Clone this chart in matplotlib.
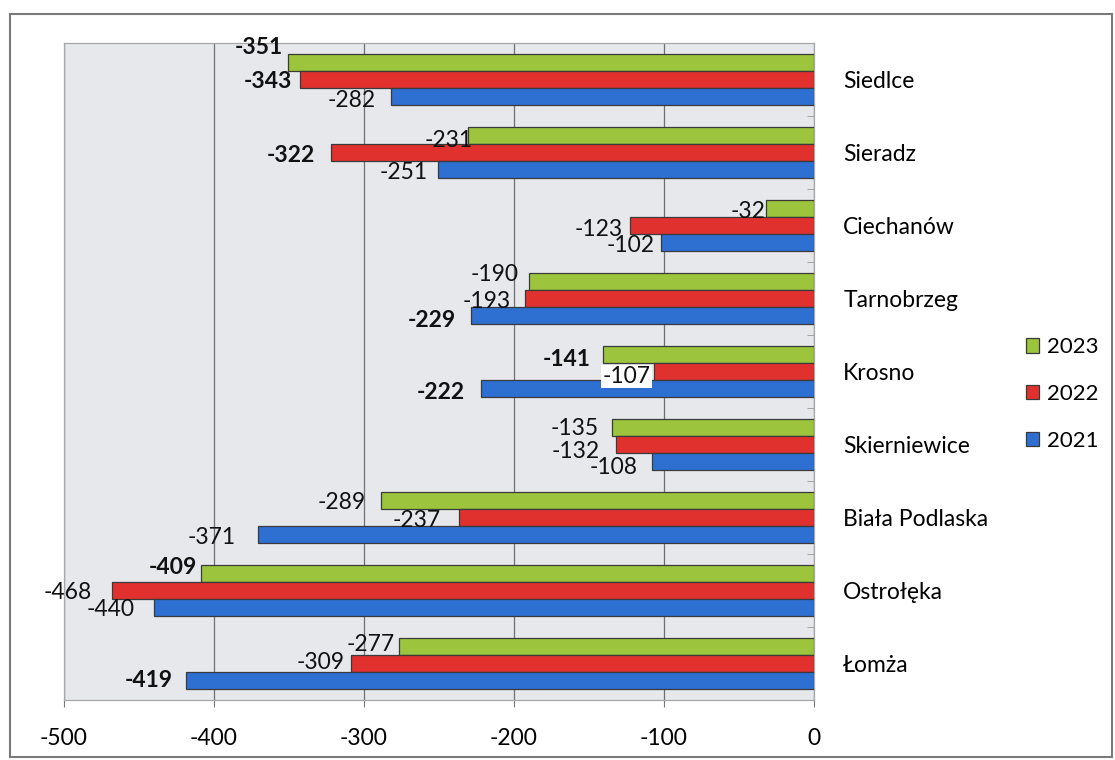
import numpy as np
import matplotlib.pyplot as plt
from matplotlib.patches import Rectangle

plt.rcParams['font.family'] = ['Lato', 'DejaVu Sans']

# data
cities = ["Siedlce", "Sieradz", "Ciechanów", "Tarnobrzeg", "Krosno",
          "Skierniewice", "Biała Podlaska", "Ostrołęka", "Łomża"]
years = ["2023", "2022", "2021"]
v2023 = [-351, -231, -32, -190, -141, -135, -289, -409, -277]
v2022 = [-343, -322, -123, -193, -107, -132, -237, -468, -309]
v2021 = [-282, -251, -102, -229, -222, -108, -371, -440, -419]
xticks = [-500, -400, -300, -200, -100, 0]

colors = ["#9cc43c", "#e0312f", "#2e6fd2"]

# which labels are bold in the original (series, city index)
bold = {(0, 0), (0, 4), (0, 7), (1, 0), (1, 1), (2, 3), (2, 4), (2, 8)}

# label nudges in pixels (dx, dy), the original labels were dragged by hand
nudge = [
    [(-5, -15), (5, 5), (0, 3), (-10, -7), (-12, 5), (-13, 1), (-15, 2), (-3, -6), (-4, -2)],
    [(-7, 2), (-16, 3), (-7, 4), (-14, 3), (-3, 5), (-16, 7), (-18, 3), (-20, 2), (-6, -1)],
    [(-15, 4), (-10, 3), (-6, 3), (-15, 5), (-16, 4), (-14, 6), (-22, 3), (-19, 2), (-13, 0)],
]

fig = plt.figure(figsize=(11.15, 7.6), dpi=100)
ax = fig.add_axes([64/1115, 1-700/760, 750/1115, 657/760])
ax.set_facecolor("#e6e8ec")

y = np.arange(len(cities))
h = 0.23
series = [v2023, v2022, v2021]
offsets = [-h, 0, h]

for s, vals in enumerate(series):
    ax.barh(y + offsets[s], vals, height=h, color=colors[s], edgecolor="#3a3a3a",
            linewidth=0.9, label=years[s], zorder=3)
    for i, v in enumerate(vals):
        dx, dy = nudge[s][i]
        kw = {}
        if s == 1 and i == 4:
            kw = dict(bbox=dict(boxstyle="square,pad=0.05", fc="white", ec="none"))
        ax.annotate(str(v), xy=(v, y[i] + offsets[s]), xytext=(dx*0.72, -dy*0.72),
                    textcoords="offset points", ha="right", va="center",
                    fontsize=16.5, fontweight="bold" if (s, i) in bold else "normal",
                    color="#111111", zorder=5, **kw)

ax.set_xlim(-500, 0)
ax.set_ylim(len(cities) - 0.5, -0.5)
ax.set_xticks(xticks)
ax.set_xticklabels([str(t) for t in xticks], fontsize=16.5)
ax.tick_params(axis="x", length=5, color="#777777", pad=15)

ax.yaxis.tick_right()
ax.set_yticks(y)
ax.set_yticklabels(cities, fontsize=16.5)
ax.tick_params(axis="y", which="major", length=0, pad=21)
ax.set_yticks(np.arange(len(cities) + 1) - 0.5, minor=True)
ax.tick_params(axis="y", which="minor", direction="in", length=5, color="#999999", right=True)

ax.grid(axis="x", color="#707070", linewidth=0.9, zorder=0)
ax.set_axisbelow(True)
for sp in ax.spines.values():
    sp.set_color("#a8a8a8")
    sp.set_linewidth(0.9)

leg = ax.legend(loc="center left", bbox_to_anchor=(1026/1115, 1-394/760),
                bbox_transform=fig.transFigure, frameon=False, fontsize=16,
                handlelength=0.6, handleheight=0.6, handletextpad=0.35,
                labelspacing=1.2, borderpad=0, borderaxespad=0)

fig.add_artist(Rectangle((10/1115, 1-757/760), 1102/1115, 743/760,
                         transform=fig.transFigure, fill=False,
                         edgecolor="#7a7a7a", linewidth=1.5))

fig.savefig("out.png", dpi=100, facecolor="white")
